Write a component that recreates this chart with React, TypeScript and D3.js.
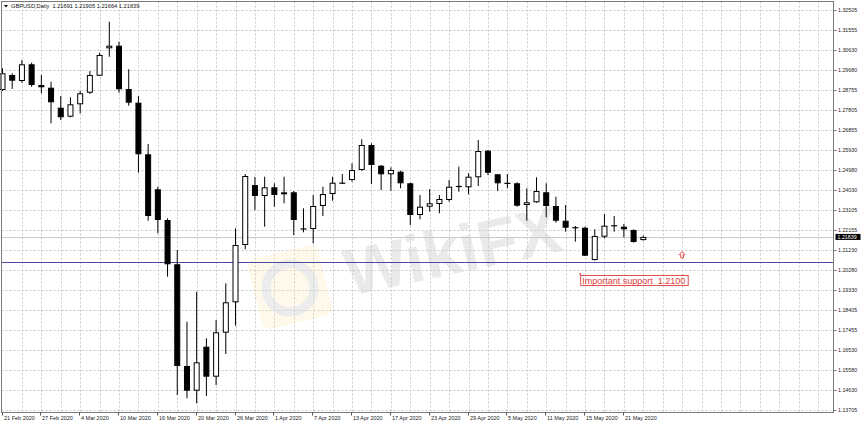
import * as d3 from 'd3';

// GBPUSD daily candles, 21 Feb 2020 .. 25 May 2020
const opens = [
  1.28745, 1.2945, 1.29168, 1.29953, 1.2898, 1.28853, 1.27913, 1.2749, 1.28073, 1.28618,
  1.29417, 1.30705, 1.30827, 1.28792, 1.28148, 1.25723, 1.24078, 1.22635, 1.20553, 1.15773,
  1.14612, 1.1668, 1.1527, 1.17338, 1.18767, 1.2146, 1.2428, 1.23763, 1.24172, 1.23843,
  1.23937, 1.2221, 1.22212, 1.23293, 1.23857, 1.2436, 1.24515, 1.24985, 1.2616, 1.25187,
  1.24783, 1.24905, 1.2436, 1.2287, 1.2326, 1.23387, 1.23575, 1.24233, 1.24172, 1.24642,
  1.25892, 1.24783, 1.24374, 1.2436, 1.2334, 1.23467, 1.23937, 1.23293, 1.22602, 1.22283,
  1.22273, 1.20755, 1.2185, 1.22377, 1.2232, 1.22165, 1.21691,
];
const highs = [
  1.29765, 1.2953, 1.30155, 1.30028, 1.2945, 1.29135, 1.28463, 1.28402, 1.28698, 1.29638,
  1.30498, 1.31955, 1.31015, 1.29718, 1.28463, 1.26207, 1.242, 1.22715, 1.21225, 1.17855,
  1.19265, 1.17075, 1.17935, 1.1966, 1.22245, 1.24797, 1.24656, 1.2467, 1.2436, 1.2467,
  1.23998, 1.23185, 1.2381, 1.242, 1.2467, 1.24797, 1.253, 1.26428, 1.2624, 1.2522,
  1.25112, 1.24952, 1.24388, 1.2381, 1.24092, 1.2381, 1.24515, 1.2514, 1.2483, 1.26395,
  1.25925, 1.24797, 1.24797, 1.24407, 1.24125, 1.24642, 1.2436, 1.2373, 1.2334, 1.22353,
  1.2232, 1.22198, 1.22917, 1.22823, 1.22447, 1.22198, 1.21905,
];
const lows = [
  1.28698, 1.28792, 1.29088, 1.289, 1.2859, 1.2718, 1.27335, 1.27462, 1.2765, 1.28557,
  1.29403, 1.3031, 1.28618, 1.28007, 1.24858, 1.22602, 1.2201, 1.1997, 1.1441, 1.14255,
  1.1402, 1.14363, 1.1488, 1.16337, 1.17667, 1.21258, 1.23105, 1.2232, 1.2326, 1.2342,
  1.2193, 1.22057, 1.2154, 1.22823, 1.23542, 1.24327, 1.24435, 1.24952, 1.24327, 1.24045,
  1.24012, 1.24125, 1.224, 1.22668, 1.23025, 1.2295, 1.23495, 1.23965, 1.23843, 1.24233,
  1.2475, 1.23998, 1.24125, 1.2326, 1.22602, 1.23448, 1.22762, 1.22508, 1.22085, 1.21615,
  1.20943, 1.20722, 1.21775, 1.22085, 1.21822, 1.21568, 1.21664,
];
const closes = [
  1.2953, 1.29182, 1.29953, 1.2898, 1.28872, 1.28167, 1.27462, 1.28073, 1.2859, 1.2945,
  1.3039, 1.30827, 1.28778, 1.28148, 1.25723, 1.22823, 1.22635, 1.20553, 1.15773, 1.14612,
  1.15947, 1.1527, 1.17357, 1.18767, 1.2146, 1.24703, 1.23763, 1.24172, 1.2381, 1.23937,
  1.22635, 1.2222, 1.23293, 1.23857, 1.24388, 1.2437, 1.24985, 1.2616, 1.2522, 1.24783,
  1.24985, 1.2436, 1.2287, 1.2326, 1.2342, 1.23622, 1.242, 1.24186, 1.2467, 1.25878,
  1.24858, 1.2436, 1.24341, 1.23307, 1.23467, 1.23998, 1.23293, 1.22602, 1.22273, 1.22259,
  1.20957, 1.21883, 1.22367, 1.22353, 1.22198, 1.21601, 1.21839,
];

// one label every 4 bars
const dateLabels = [
  '21 Feb 2020', '27 Feb 2020', '4 Mar 2020', '10 Mar 2020', '16 Mar 2020', '20 Mar 2020',
  '26 Mar 2020', '1 Apr 2020', '7 Apr 2020', '13 Apr 2020', '17 Apr 2020', '23 Apr 2020',
  '29 Apr 2020', '5 May 2020', '11 May 2020', '15 May 2020', '21 May 2020',
];
const labelStep = 4;

const priceTicks = [
  1.32505, 1.31555, 1.30630, 1.29680, 1.28755, 1.27805, 1.26855, 1.25930, 1.24980, 1.24030,
  1.23105, 1.22155, 1.21230, 1.20280, 1.19330, 1.18405, 1.17455, 1.16530, 1.15580, 1.14630,
  1.13705,
];

const supportLevel = 1.2068;
const arrowLevel = 1.21;
const arrowBar = 70;
const noteBar = 59.5;
const noteLevel = 1.2010;
const noteText = 'Important support\u00a0 1.2100';
const header = 'GBPUSD,Daily\u00a0 1.21691 1.21905 1.21664 1.21839';

const W = 862;
const H = 424;
const plot = { left: 1.5, right: 833.5, top: 1.5, bottom: 412.5 };

export default function App() {
  const n = closes.length;
  const x = d3.scaleLinear().domain([0, n - 1]).range([2.5, 643.3]);
  const y = d3.scaleLinear().domain([priceTicks[priceTicks.length - 1], priceTicks[0]]).range([410, 10]);
  const step = x(1) - x(0);
  const maxBar = Math.floor((plot.right - x(0)) / step);
  const gridBars = d3.range(2, maxBar + 1, 2);
  const last = closes[n - 1];
  const font = '"Liberation Sans", Arial, sans-serif';

  return (
    <svg width={W} height={H} style={{ position: 'absolute', left: 0, top: 0, background: '#fff' }}>
      {/* grid */}
      <g stroke="#c9c9c9" strokeWidth={1} strokeDasharray="2,2">
        {priceTicks.map((t) => (
          <line key={t} x1={plot.left} x2={plot.right} y1={Math.round(y(t)) + 0.5} y2={Math.round(y(t)) + 0.5} />
        ))}
        {gridBars.map((i) => (
          <line key={i} x1={Math.round(x(i)) + 0.5} x2={Math.round(x(i)) + 0.5} y1={plot.top} y2={plot.bottom} />
        ))}
      </g>

      {/* watermark */}
      <g opacity={0.42}>
        <rect x={-36} y={-36} width={72} height={72} rx={8} fill="#fbe7b0" opacity={0.6}
          transform="translate(290,287) rotate(-14)" />
        <circle cx={290} cy={288} r={24} fill="none" stroke="#d4d4d4" strokeWidth={9} />
        <text x={0} y={0} fontFamily={font} fontWeight="bold" fontSize={66} fill="#cfcfcf"
          transform="translate(350,296) rotate(-12)">WikiFX</text>
      </g>

      {/* bid line */}
      <line x1={plot.left} x2={plot.right} y1={Math.round(y(last)) + 0.5} y2={Math.round(y(last)) + 0.5} stroke="#c8c8c8" />
      {/* support line */}
      <line x1={plot.left} x2={plot.right} y1={Math.round(y(supportLevel)) + 0.5} y2={Math.round(y(supportLevel)) + 0.5} stroke="#4a4aa0" />

      {/* candles */}
      <g>
        {closes.map((c, i) => {
          const o = opens[i];
          const cx = x(i);
          const top = y(Math.max(o, c));
          const bot = y(Math.min(o, c));
          const bull = c >= o;
          return (
            <g key={i}>
              <line x1={cx} x2={cx} y1={y(highs[i])} y2={y(lows[i])} stroke="#000" />
              {bot - top < 1.2 ? (
                <line x1={cx - 3} x2={cx + 3} y1={(top + bot) / 2} y2={(top + bot) / 2} stroke="#000" strokeWidth={1.2} />
              ) : (
                <rect x={cx - 2.5} y={top + 0.5} width={5} height={bot - top - 1}
                  fill={bull ? '#fff' : '#000'} stroke="#000" />
              )}
            </g>
          );
        })}
      </g>

      {/* frame */}
      <rect x={plot.left} y={plot.top} width={plot.right - plot.left} height={plot.bottom - plot.top}
        fill="none" stroke="#7a7a7a" />

      {/* price axis */}
      <g fontFamily={font} fontSize={5.3} fill="#222">
        {priceTicks.map((t) => (
          <g key={t}>
            <line x1={plot.right} x2={plot.right + 3} y1={Math.round(y(t)) + 0.5} y2={Math.round(y(t)) + 0.5} stroke="#7a7a7a" />
            <text x={838} y={y(t)} dy="0.35em">{t.toFixed(5)}</text>
          </g>
        ))}
      </g>
      <rect x={835.5} y={y(last) - 3} width={25} height={6} fill="#000" />
      <text x={837.5} y={y(last)} dy="0.36em" fontFamily={font} fontSize={5.3} fill="#fff">{last.toFixed(5)}</text>

      {/* time axis */}
      <g fontFamily={font} fontSize={5.5} fill="#222">
        {dateLabels.map((d, k) => {
          const tx = Math.round(x(k * labelStep)) - 0.5;
          return (
            <g key={d}>
              <line x1={tx} x2={tx} y1={plot.bottom} y2={plot.bottom + 3} stroke="#555" />
              <text x={tx + 1.5} y={420}>{d}</text>
            </g>
          );
        })}
      </g>

      {/* header */}
      <path d="M4,5 L8,5 L6,7.5 Z" fill="#000" />
      <text x={11} y={8} fontFamily={font} fontSize={5.7} fill="#111">{header}</text>

      {/* annotations */}
      <g transform={`translate(${x(arrowBar)},${y(arrowLevel)})`} fill="none" stroke="#e03a3a" strokeWidth={0.9}>
        <path d="M0,-3.2 L3,0 L1.3,0 L1.3,3 L-1.3,3 L-1.3,0 L-3,0 Z" />
      </g>
      <g transform={`translate(${x(noteBar)},${y(noteLevel)})`}>
        <circle cx={0} cy={0} r={0.9} fill="#e03a3a" />
        <rect x={0.5} y={1.5} width={107.5} height={10} fill="none" stroke="#e03a3a" strokeWidth={0.9} />
        <text x={2} y={9.7} fontFamily={font} fontSize={9} fill="#e03a3a">{noteText}</text>
      </g>
    </svg>
  );
}
